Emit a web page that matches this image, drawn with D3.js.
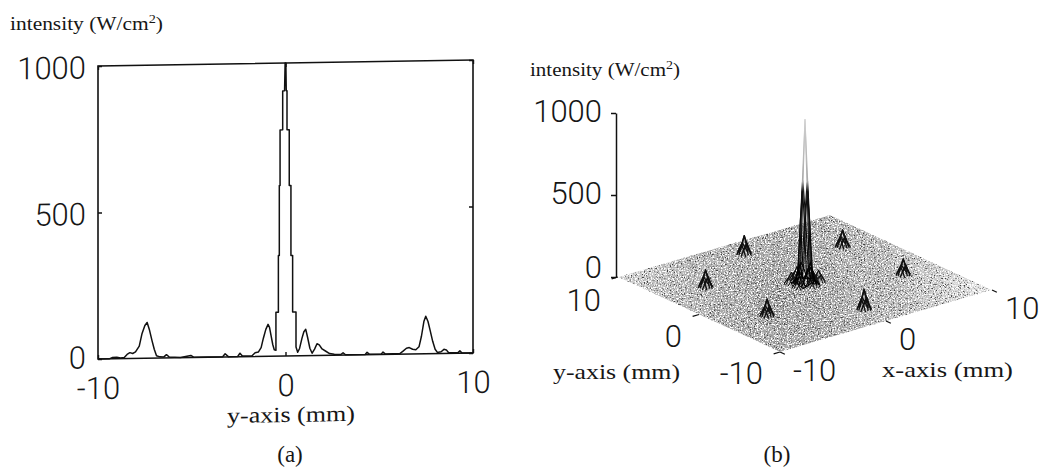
<!DOCTYPE html>
<html lang="en">
<head>
<meta charset="UTF-8">
<script src="https://cdn.jsdelivr.net/npm/d3@7/dist/d3.min.js"></script>
<title>intensity</title>
<style>
  html, body { margin: 0; padding: 0; background: #fff; }
  svg { display: block; }
  .num { font-family: Roboto, "Liberation Sans", Arial, sans-serif; font-weight: 300; font-size: 31px; fill: #161616; }
  .lbl { font-family: "Liberation Serif", "Times New Roman", serif; fill: #161616; }
</style>
</head>
<body>
<div id="fig"></div>
<script>
// ---------- data ----------
// (a) intensity along the y axis (cut through x = 0)
const cutY = [-10, -9.4, -9.25, -9.0, -8.8, -8.6, -8.45, -8.3, -8.15, -8.0, -7.8, -7.65, -7.5, -7.38, -7.25, -7.12, -7.0, -6.88,
  -6.7, -6.5, -6.35, -6.2, -5.6, -5.05, -4.9, -3.35, -3.22, -3.05, -2.55, -2.43, -2.3, -1.8, -1.62, -1.45, -1.3, -1.18,
  -1.05, -0.93, -0.85, -0.77, -0.68, -0.6, -0.51, -0.51, -0.38, -0.38, -0.33, -0.33, -0.29, -0.29, -0.15, -0.15, -0.05,
  -0.02, 0.02, 0.04, 0.08, 0.08, 0.2, 0.2, 0.29, 0.29, 0.38, 0.38, 0.56, 0.56, 0.65, 0.75, 0.88, 0.98, 1.08, 1.18, 1.3,
  1.42, 1.55, 1.68, 1.8, 1.95, 2.15, 2.35, 2.6, 2.95, 3.07, 3.2, 4.25, 4.35, 4.48, 5.1, 5.2, 5.33, 6.1, 6.27, 6.45, 6.6,
  6.78, 6.95, 7.12, 7.25, 7.38, 7.48, 7.6, 7.72, 7.85, 7.98, 8.1, 8.3, 8.45, 8.58, 8.7, 9.2, 9.3, 9.4, 10];
const cutI = [0, 0, 4, 5, 2, 4, 14, 20, 17, 22, 42, 85, 112, 122, 95, 60, 30, 8,
  4, 3, 11, 3, 1, 7, 1, 1, 11, 1, 1, 12, 2, 2, 13, 15, 30, 62,
  92, 109, 98, 70, 40, 22, 20, 150, 150, 343, 343, 582, 582, 772, 772, 905, 905,
  1000, 1000, 905, 905, 772, 772, 582, 582, 343, 343, 150, 150, 30, 12, 25, 60, 82, 90, 62, 25,
  8, 22, 40, 36, 22, 14, 6, 3, 2, 8, 1, 1, 8, 1, 1, 8, 1, 2, 10, 20, 22,
  16, 14, 24, 60, 110, 128, 110, 78, 42, 15, 4, 6, 14, 12, 2, 2, 8, 1, 0];

const posTicks = [-10, 0, 10];
const intTicks = [0, 500, 1000];

// (b) surface: six side lobes on a hexagon
const lobeX = [0, 6.6, 6.6, 0, -6.4, -6.4];
const lobeY = [7.5, 4.0, -3.5, -7.3, -3.7, 3.9];
const lobeH = [120, 110, 105, 130, 110, 115];
// small ring right around the main peak
const ringX = [0, 0.9, 0.9, 0, -0.9, -0.9];
const ringY = [1.0, 0.5, -0.5, -1.0, -0.5, 0.5];
const ringH = [80, 70, 75, 95, 70, 75];
// lobe cross-section: offset (mm) and share of the lobe height
const lobeOff = [-0.5, -0.25, 0, 0.25, 0.5];
const lobeRel = [0.1, 0.6, 1, 0.55, 0.1];
// main peak, 0.25 mm grid
const coreOff = [-0.75, -0.5, -0.25, 0, 0.25, 0.5, 0.75];
const coreZ = [
  [0, 5, 10, 20, 10, 5, 0],
  [5, 25, 80, 120, 80, 25, 5],
  [10, 80, 380, 620, 380, 80, 10],
  [20, 120, 620, 1000, 620, 120, 20],
  [10, 80, 380, 620, 380, 80, 10],
  [5, 25, 80, 120, 80, 25, 5],
  [0, 5, 10, 20, 10, 5, 0]
];

// ---------- svg ----------
const W = 1039, H = 471;
const svg = d3.select("#fig").append("svg").attr("width", W).attr("height", H);
const defs = svg.append("defs");

// ========== (a) ==========
const xA = d3.scaleLinear().domain([-10, 10]).range([98, 473]);
const yA = d3.scaleLinear().domain([0, 1000]).range([356, 63]);

// the scan is slightly tilted
const gA = svg.append("g").attr("transform", "translate(285.5,0) skewY(-0.92) translate(-285.5,0)");

gA.append("rect").attr("x", xA(-10)).attr("y", yA(1000))
  .attr("width", xA(10) - xA(-10)).attr("height", yA(0) - yA(1000))
  .attr("fill", "none").attr("stroke", "#111").attr("stroke-width", 1.6);

const axL = gA.append("g").attr("transform", `translate(${xA(-10)},0)`)
  .call(d3.axisLeft(yA).tickValues(intTicks).tickSize(-4).tickPadding(12).tickFormat(d3.format("d")));
const axB = gA.append("g").attr("transform", `translate(0,${yA(0)})`)
  .call(d3.axisBottom(xA).tickValues(posTicks).tickSize(-4).tickPadding(18).tickFormat(d => d < 0 ? "-" + (-d) : d));
gA.append("g").attr("transform", `translate(${xA(10)},0)`)
  .call(d3.axisRight(yA).tickValues(intTicks).tickSize(-4).tickFormat(""));
gA.append("g").attr("transform", `translate(0,${yA(1000)})`)
  .call(d3.axisTop(xA).tickValues(posTicks).tickSize(-4).tickFormat(""));

gA.selectAll(".domain").remove();
gA.selectAll(".tick line").attr("stroke", "#111").attr("stroke-width", 1.4);
gA.selectAll(".tick text").attr("class", "num").attr("font-size", null).attr("font-family", null).attr("fill", null);
axL.selectAll(".tick text").attr("dy", d => d === 0 ? "0.28em" : "0.38em");
axL.attr("font-size", null).attr("font-family", null);
axB.attr("font-size", null).attr("font-family", null);

const cutLine = d3.line().x((d, i) => xA(cutY[i])).y(d => yA(d));
gA.append("path").datum(cutI).attr("d", cutLine)
  .attr("fill", "none").attr("stroke", "#111").attr("stroke-width", 1.5).attr("stroke-linejoin", "round");

gA.append("text").attr("class", "lbl").attr("x", 291).attr("y", 422).attr("text-anchor", "middle")
  .attr("font-size", 22).attr("textLength", 128).attr("lengthAdjust", "spacingAndGlyphs").text("y-axis (mm)");

// titles
function unitTitle(x, y, len) {
  const t = svg.append("text").attr("class", "lbl").attr("x", x).attr("y", y).attr("font-size", 18)
    .attr("textLength", len).attr("lengthAdjust", "spacingAndGlyphs");
  t.append("tspan").text("intensity (W/cm");
  t.append("tspan").attr("font-size", 12).attr("dy", -7).text("2");
  t.append("tspan").attr("dy", 7).text(")");
}
unitTitle(10, 30, 153);
unitTitle(530, 76, 150);

svg.append("text").attr("class", "lbl").attr("x", 290).attr("y", 462).attr("text-anchor", "middle")
  .attr("font-size", 23).text("(a)");
svg.append("text").attr("class", "lbl").attr("x", 777).attr("y", 462).attr("text-anchor", "middle")
  .attr("font-size", 23).text("(b)");

// ========== (b) ==========
const O = [805, 283.5];
const px = d3.scaleLinear().domain([-10, 10]).range([-106, 106]);   // x -> horizontal
const pxv = d3.scaleLinear().domain([-10, 10]).range([31, -31]);    // x -> vertical
const py = d3.scaleLinear().domain([-10, 10]).range([81, -81]);     // y -> horizontal
const pyv = d3.scaleLinear().domain([-10, 10]).range([37.5, -37.5]); // y -> vertical
const pz = d3.scaleLinear().domain([0, 1000]).range([0, -164]);
const proj = (x, y, z) => [O[0] + px(x) + py(y), O[1] + pxv(x) + pyv(y) + pz(z)];

// floor texture
const rg = defs.append("radialGradient").attr("id", "floorShade").attr("gradientUnits", "userSpaceOnUse")
  .attr("cx", 785).attr("cy", 300).attr("r", 225);
rg.append("stop").attr("offset", 0).attr("stop-color", "#9a9a9a");
rg.append("stop").attr("offset", 0.5).attr("stop-color", "#b6b6b6");
rg.append("stop").attr("offset", 1).attr("stop-color", "#efefef");

const flt = defs.append("filter").attr("id", "grain").attr("x", 0).attr("y", 0).attr("width", 1).attr("height", 1)
  .attr("color-interpolation-filters", "sRGB");
flt.append("feTurbulence").attr("type", "fractalNoise").attr("baseFrequency", 0.7).attr("numOctaves", 2)
  .attr("seed", 11).attr("result", "t");
flt.append("feColorMatrix").attr("in", "t").attr("type", "matrix")
  .attr("values", "0 0 0 0 0.25  0 0 0 0 0.25  0 0 0 0 0.25  -5 0 0 0 2.25").attr("result", "dark");
flt.append("feColorMatrix").attr("in", "t").attr("type", "matrix")
  .attr("values", "0 0 0 0 1  0 0 0 0 1  0 0 0 0 1  0 -5 0 0 2.6").attr("result", "light");
const mg = flt.append("feMerge").attr("result", "m");
mg.append("feMergeNode").attr("in", "SourceGraphic");
mg.append("feMergeNode").attr("in", "dark");
mg.append("feMergeNode").attr("in", "light");
flt.append("feComposite").attr("in", "m").attr("in2", "SourceAlpha").attr("operator", "in");

const corners = [[-10, -10], [10, -10], [10, 10], [-10, 10]].map(c => proj(c[0], c[1], 0));
svg.append("path").attr("d", d3.line()(corners) + "Z")
  .attr("fill", "url(#floorShade)").attr("filter", "url(#grain)");

// spike colour: dark near the floor, pale at the top
const sg = defs.append("linearGradient").attr("id", "spikeCol").attr("gradientUnits", "userSpaceOnUse")
  .attr("x1", 0).attr("x2", 0).attr("y1", O[1]).attr("y2", O[1] + pz(1000));
sg.append("stop").attr("offset", 0).attr("stop-color", "#000");
sg.append("stop").attr("offset", 0.56).attr("stop-color", "#111");
sg.append("stop").attr("offset", 0.62).attr("stop-color", "#a8a8a8");
sg.append("stop").attr("offset", 1).attr("stop-color", "#d0d0d0");

const meshLine = d3.line().x(d => d[0]).y(d => d[1]);
const gB = svg.append("g").attr("fill", "none").attr("stroke-linejoin", "round");

function drawBump(cx, cy, h, w) {
  [-0.25, 0, 0.25].forEach((s, k) => {
    const f = k === 1 ? 1 : 0.6;
    const alongX = lobeOff.map((o, i) => proj(cx + o, cy + s, h * f * lobeRel[i]));
    const alongY = lobeOff.map((o, i) => proj(cx + s, cy + o, h * f * lobeRel[i]));
    gB.append("path").attr("d", meshLine(alongX)).attr("stroke", "#111").attr("stroke-width", w);
    gB.append("path").attr("d", meshLine(alongY)).attr("stroke", "#111").attr("stroke-width", w);
  });
}
// back lobes first
d3.range(lobeX.length).sort((a, b) => proj(lobeX[a], lobeY[a], 0)[1] - proj(lobeX[b], lobeY[b], 0)[1])
  .forEach(i => drawBump(lobeX[i], lobeY[i], lobeH[i], 1.4));
ringX.forEach((x, i) => drawBump(x, ringY[i], ringH[i], 1.0));

coreOff.forEach((yo, r) => {
  const row = coreOff.map((xo, c) => proj(xo, yo, coreZ[r][c]));
  gB.append("path").attr("d", meshLine(row)).attr("stroke", "url(#spikeCol)").attr("stroke-width", 1.1);
});
coreOff.forEach((xo, c) => {
  const col = coreOff.map((yo, r) => proj(xo, yo, coreZ[r][c]));
  gB.append("path").attr("d", meshLine(col)).attr("stroke", "url(#spikeCol)").attr("stroke-width", 1.1);
});

// z axis at the left corner
const zc = proj(-10, 10, 0);
const zS = d3.scaleLinear().domain([0, 1000]).range([zc[1], zc[1] + pz(1000)]);
const axZ = svg.append("g").attr("transform", `translate(${zc[0] - 2},0)`)
  .call(d3.axisLeft(zS).tickValues(intTicks).tickSize(5).tickSizeOuter(0).tickPadding(9).tickFormat(d3.format("d")));
axZ.attr("font-size", null).attr("font-family", null);
axZ.select(".domain").attr("stroke", "#111").attr("stroke-width", 1.5);
axZ.selectAll(".tick line").attr("stroke", "#111").attr("stroke-width", 1.5);
axZ.selectAll(".tick text").attr("class", "num").attr("fill", null)
  .attr("dy", d => d === 0 ? "0.02em" : "0.27em");

// floor axes: y along the left-front edge, x along the front-right edge
const fmt = d => d < 0 ? "-" + (-d) : String(d);
posTicks.forEach(v => {
  const p = proj(-10, v, 0), q = proj(-10.6, v, 0);
  svg.append("line").attr("x1", p[0]).attr("y1", p[1]).attr("x2", q[0]).attr("y2", q[1])
    .attr("stroke", "#111").attr("stroke-width", 1.3);
  svg.append("text").attr("class", "num").attr("x", p[0] - 17).attr("y", p[1] + (v === 10 ? 34 : 32))
    .attr("text-anchor", "end").text(fmt(v));
});
posTicks.forEach(v => {
  const p = proj(v, -10, 0), q = proj(v, -10.6, 0);
  svg.append("line").attr("x1", p[0]).attr("y1", p[1]).attr("x2", q[0]).attr("y2", q[1])
    .attr("stroke", "#111").attr("stroke-width", 1.3);
  svg.append("text").attr("class", "num").attr("x", p[0] + 13).attr("y", p[1] + 29)
    .attr("text-anchor", "start").text(fmt(v));
});

svg.append("text").attr("class", "lbl").attr("x", 553).attr("y", 379).attr("font-size", 22)
  .attr("textLength", 127).attr("lengthAdjust", "spacingAndGlyphs").text("y-axis (mm)");
svg.append("text").attr("class", "lbl").attr("x", 882).attr("y", 377).attr("font-size", 22)
  .attr("textLength", 131).attr("lengthAdjust", "spacingAndGlyphs").text("x-axis (mm)");
</script>
</body>
</html>
